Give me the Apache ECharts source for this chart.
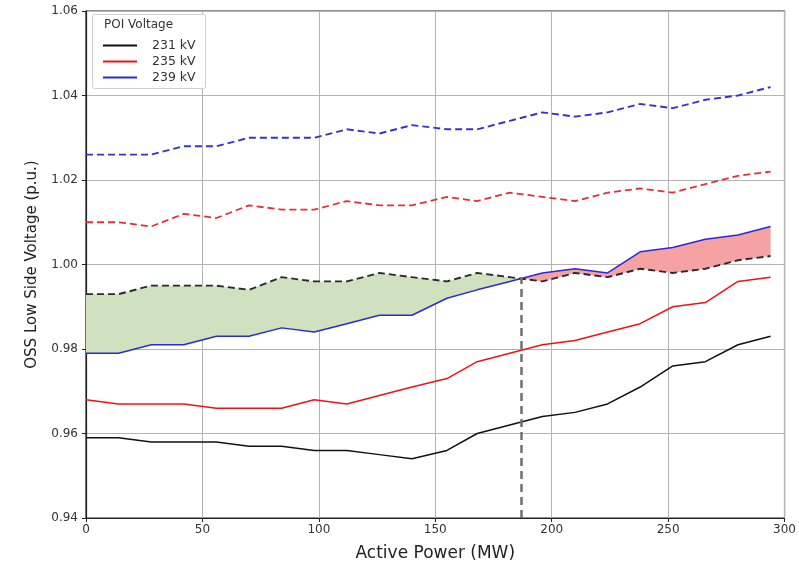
<!DOCTYPE html>
<html><head><meta charset="utf-8">
<script src="https://cdn.jsdelivr.net/npm/echarts@6/dist/echarts.min.js"></script>
<style>html,body{margin:0;padding:0;background:#fff}#c{width:799px;height:567px}</style>
</head><body><div id="c"></div>
<script>
const power = [0,14,28,42,56,70,84,98,112,126,140,155,168,182,196,210,224,238,252,266,280,294];
const low231  = [0.959,0.959,0.958,0.958,0.958,0.957,0.957,0.956,0.956,0.955,0.954,0.956,0.960,0.962,0.964,0.965,0.967,0.971,0.976,0.977,0.981,0.983];
const low235  = [0.968,0.967,0.967,0.967,0.966,0.966,0.966,0.968,0.967,0.969,0.971,0.973,0.977,0.979,0.981,0.982,0.984,0.986,0.990,0.991,0.996,0.997];
const low239  = [0.979,0.979,0.981,0.981,0.983,0.983,0.985,0.984,0.986,0.988,0.988,0.992,0.994,0.996,0.998,0.999,0.998,1.003,1.004,1.006,1.007,1.009];
const high231 = [0.993,0.993,0.995,0.995,0.995,0.994,0.997,0.996,0.996,0.998,0.997,0.996,0.998,0.997,0.996,0.998,0.997,0.999,0.998,0.999,1.001,1.002];
const high235 = [1.010,1.010,1.009,1.012,1.011,1.014,1.013,1.013,1.015,1.014,1.014,1.016,1.015,1.017,1.016,1.015,1.017,1.018,1.017,1.019,1.021,1.022];
const high239 = [1.026,1.026,1.026,1.028,1.028,1.030,1.030,1.030,1.032,1.031,1.033,1.032,1.032,1.034,1.036,1.035,1.036,1.038,1.037,1.039,1.040,1.042];
const crossX = 187;
const crossY = 0.997;
const legendNames = ['231 kV','235 kV','239 kV'];
const xTicks = [0,50,100,150,200,250,300];
const yTicks = [0.94,0.96,0.98,1.00,1.02,1.04,1.06];

const pairs = a => power.map((x,i)=>[x,a[i]]);

function fillRender(params, api){
  const children = [];
  let poly = null;
  const push = (up, lo) => { poly.up.push(api.coord(up)); poly.lo.push(api.coord(lo)); };
  const close = () => { if(poly && poly.up.length>1){
      const pts = poly.up.concat(poly.lo.slice().reverse());
      children.push({type:'polygon', shape:{points:pts}, style:{fill: poly.sign>0 ? '#cfe1bf' : '#f6a2a2', stroke:null}});
  } };
  for(let i=0;i<power.length;i++){
    const d = high231[i]-low239[i];
    const s = d>=0?1:-1;
    if(poly===null){ poly={up:[],lo:[],sign:s}; }
    else if(s!==poly.sign){
      const d0 = high231[i-1]-low239[i-1];
      const t = d0/(d0-d);
      const xc = power[i-1]+t*(power[i]-power[i-1]);
      const yc = low239[i-1]+t*(low239[i]-low239[i-1]);
      push([xc,yc],[xc,yc]);
      close();
      poly={up:[],lo:[],sign:s};
      push([xc,yc],[xc,yc]);
    }
    push([power[i],high231[i]],[power[i],low239[i]]);
  }
  close();
  return {type:'group', children};
}

const chart = echarts.init(document.getElementById('c'));
const font = 'DejaVu Sans';
chart.setOption({
  animation:false,
  backgroundColor:'#fff',
  textStyle:{fontFamily:font},
  grid:{left:86,right:11,top:11,bottom:44,show:true,borderColor:'#222',borderWidth:1.2,backgroundColor:'transparent'},
  xAxis:{type:'value',min:xTicks[0],max:xTicks[xTicks.length-1],interval:50,
    name:'Active Power (MW)',nameLocation:'middle',nameGap:27,
    nameTextStyle:{fontSize:17,color:'#222',fontFamily:font},
    axisLine:{lineStyle:{color:'#222',width:1.2}},
    axisTick:{show:true,length:4,lineStyle:{color:'#222'}},
    axisLabel:{fontSize:12,color:'#333',margin:6,fontFamily:font},
    splitLine:{show:true,lineStyle:{color:'#b4b4b4',width:1}}},
  yAxis:{type:'value',min:yTicks[0],max:yTicks[yTicks.length-1],interval:0.02,
    name:'OSS Low Side Voltage (p.u.)',nameLocation:'middle',nameGap:46,
    nameTextStyle:{fontSize:15,color:'#222',fontFamily:font},
    axisLine:{show:true,lineStyle:{color:'#222',width:1.2}},
    axisTick:{show:true,length:4,lineStyle:{color:'#222'}},
    axisLabel:{fontSize:12,color:'#333',margin:8,fontFamily:font,formatter:v=>v.toFixed(2)},
    splitLine:{show:true,lineStyle:{color:'#b4b4b4',width:1}}},
  legend:{data:legendNames,orient:'vertical',left:98,top:34,itemGap:3,itemWidth:34,itemHeight:2,icon:'rect',z:60,
    textStyle:{fontSize:12.5,color:'#333',fontFamily:font,padding:[0,0,0,10]}},
  graphic:[
    {type:'rect',left:92,top:14,z:50,shape:{width:113,height:74,r:2},style:{fill:'rgba(255,255,255,0.9)',stroke:'#d0d0d0',lineWidth:1}},
    {type:'text',left:104,top:19,z:51,style:{text:'POI Voltage',fontSize:12,fill:'#333',fontFamily:font}}
  ],
  series:[
    {type:'custom',name:'fill',data:[0],renderItem:fillRender,z:1,silent:true,clip:true},
    {type:'line',name:'231 kV',data:pairs(low231),showSymbol:false,lineStyle:{color:'#111',width:1.5},itemStyle:{color:'#111'},z:3},
    {type:'line',name:'235 kV',data:pairs(low235),showSymbol:false,lineStyle:{color:'#e8141c',width:1.5},itemStyle:{color:'#e8141c'},z:3},
    {type:'line',name:'239 kV',data:pairs(low239),showSymbol:false,lineStyle:{color:'#2b2bd6',width:1.5},itemStyle:{color:'#2b2bd6'},z:3},
    {type:'line',name:'231 kV high',data:pairs(high231),showSymbol:false,lineStyle:{color:'#2a2a2a',width:1.9,type:[7,4]},z:3},
    {type:'line',name:'235 kV high',data:pairs(high235),showSymbol:false,lineStyle:{color:'#e0303c',width:1.8,type:[7,4]},z:3},
    {type:'line',name:'239 kV high',data:pairs(high239),showSymbol:false,lineStyle:{color:'#3434c8',width:1.9,type:[7,4]},z:3,
      markLine:{silent:true,symbol:['none','none'],label:{show:false},
        lineStyle:{color:'#707070',width:2.5,type:[8,5]},
        data:[[{coord:[crossX,yTicks[0]]},{coord:[crossX,crossY]}]]}}
  ]
});
</script></body></html>
